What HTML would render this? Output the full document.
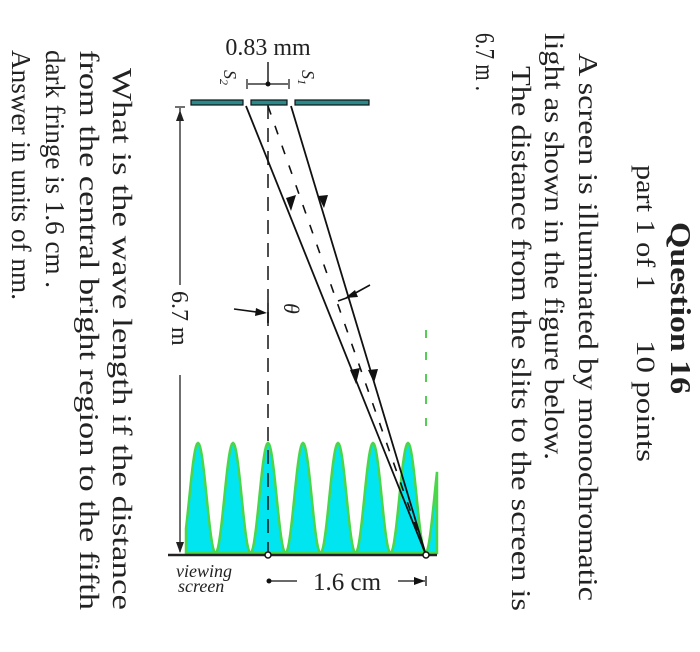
<!DOCTYPE html>
<html><head><meta charset="utf-8"><style>
html,body{margin:0;padding:0;background:#fff;}
svg{display:block;}
text{font-family:"Liberation Serif","DejaVu Serif",serif;fill:#222;}
</style></head><body>
<svg width="700" height="652" viewBox="0 0 700 652">
<g>
<text transform="translate(671,222) rotate(90)" font-size="29" font-weight="bold" textLength="172" lengthAdjust="spacingAndGlyphs">Question 16</text>
<text transform="translate(637,165) rotate(90)" font-size="26" textLength="125" lengthAdjust="spacingAndGlyphs">part 1 of 1</text>
<text transform="translate(637,340) rotate(90)" font-size="26" textLength="122" lengthAdjust="spacingAndGlyphs">10 points</text>
<text transform="translate(579,53) rotate(90)" font-size="27" textLength="548" lengthAdjust="spacingAndGlyphs">A screen is illuminated by monochromatic</text>
<text transform="translate(545,33) rotate(90)" font-size="27" textLength="427" lengthAdjust="spacingAndGlyphs">light as shown in the figure below.</text>
<text transform="translate(512,66) rotate(90)" font-size="27" textLength="545" lengthAdjust="spacingAndGlyphs">The distance from the slits to the screen is</text>
<text transform="translate(476,33) rotate(90)" font-size="27" textLength="58" lengthAdjust="spacingAndGlyphs">6.7 m .</text>
<text transform="translate(113,68) rotate(90)" font-size="27" textLength="542" lengthAdjust="spacingAndGlyphs">What is the wave length if the distance</text>
<text transform="translate(80,50) rotate(90)" font-size="27" textLength="560" lengthAdjust="spacingAndGlyphs">from the central bright region to the fifth</text>
<text transform="translate(46,50) rotate(90)" font-size="27" textLength="238" lengthAdjust="spacingAndGlyphs">dark fringe is 1.6 cm .</text>
<text transform="translate(12,50) rotate(90)" font-size="27" textLength="250" lengthAdjust="spacingAndGlyphs">Answer in units of nm.</text>
</g>

<g>
<path id="wave" fill="#00e5f0" stroke="#4ad64a" stroke-width="2.5"/>
<line x1="168" y1="555" x2="437" y2="555" stroke="#222" stroke-width="2.5"/>
<line x1="426" y1="330" x2="426" y2="440" stroke="#55cc55" stroke-width="2" stroke-dasharray="8,14"/>
<rect x="191" y="100" width="52" height="5" fill="#2a8a8a" stroke="#111" stroke-width="1.2"/>
<rect x="251" y="100" width="36" height="5" fill="#2a8a8a" stroke="#111" stroke-width="1.2"/>
<rect x="295" y="100" width="74" height="5" fill="#2a8a8a" stroke="#111" stroke-width="1.2"/>
<line x1="268" y1="105" x2="268" y2="555" stroke="#222" stroke-width="1.6" stroke-dasharray="14,9"/>
<line x1="246" y1="106" x2="426" y2="555" stroke="#111" stroke-width="1.8"/>
<line x1="291" y1="106" x2="426" y2="555" stroke="#111" stroke-width="1.8"/>
<line x1="268" y1="106" x2="426" y2="555" stroke="#111" stroke-width="1.6" stroke-dasharray="9,12"/>
<polygon points="291,211 286,198 296,195" fill="#111"/>
<polygon points="324,208 318,196 328,195" fill="#111"/>
<polygon points="356,384 350,370 360,368" fill="#111"/>
<polygon points="374,383 368,370 378,369" fill="#111"/>
<line x1="234" y1="309" x2="264" y2="313" stroke="#111" stroke-width="1.6"/>
<polygon points="267,313 256,308 255,316" fill="#111"/>
<line x1="268" y1="303" x2="268" y2="323" stroke="#111" stroke-width="1.6"/>
<line x1="370" y1="285" x2="350" y2="296" stroke="#111" stroke-width="1.6"/>
<polygon points="345,298 355,290 358,297" fill="#111"/>
<line x1="338" y1="301" x2="352" y2="296" stroke="#111" stroke-width="1.6"/>
<text transform="translate(284,303) rotate(90)" font-size="22" font-style="italic">θ</text>
<text x="268" y="55" font-size="24" text-anchor="middle">0.83 mm</text>
<line x1="268" y1="62" x2="268" y2="84" stroke="#111" stroke-width="1.4"/>
<circle cx="268" cy="84" r="2.5" fill="#111"/>
<line x1="248" y1="84" x2="288" y2="84" stroke="#111" stroke-width="1.2"/>
<line x1="247" y1="79" x2="247" y2="89" stroke="#111" stroke-width="1.2"/>
<line x1="289" y1="79" x2="289" y2="89" stroke="#111" stroke-width="1.2"/>
<text transform="translate(224,70) rotate(90)" font-size="18" font-style="italic">S<tspan font-size="12" dy="4">2</tspan></text>
<text transform="translate(302,70) rotate(90)" font-size="18" font-style="italic">S<tspan font-size="12" dy="4">1</tspan></text>
<line x1="180" y1="108" x2="180" y2="285" stroke="#222" stroke-width="1.3"/>
<line x1="180" y1="375" x2="180" y2="552" stroke="#222" stroke-width="1.3"/>
<line x1="175" y1="107" x2="185" y2="107" stroke="#222" stroke-width="1.3"/>
<polygon points="180,110 176,121 184,121" fill="#222"/>
<polygon points="180,553 176,542 184,542" fill="#222"/>
<text transform="translate(172,291) rotate(90)" font-size="24">6.7 m</text>
<circle cx="268" cy="555" r="3" fill="#fff" stroke="#111" stroke-width="1.5"/>
<circle cx="426" cy="555" r="3" fill="#fff" stroke="#111" stroke-width="1.5"/>
<text x="176" y="577" font-size="18" font-style="italic" fill="#555">viewing</text>
<text x="178" y="592" font-size="18" font-style="italic" fill="#555">screen</text>
<circle cx="269" cy="581" r="2.5" fill="#111"/>
<line x1="270" y1="581" x2="297" y2="581" stroke="#111" stroke-width="1.3"/>
<text x="347" y="590" font-size="25" text-anchor="middle">1.6 cm</text>
<line x1="398" y1="581" x2="425" y2="581" stroke="#111" stroke-width="1.3"/>
<polygon points="425,581 414,577 414,585" fill="#111"/>
<line x1="426" y1="576" x2="426" y2="586" stroke="#111" stroke-width="1.3"/>
</g>
</svg>
<script>
const peakPositions = [200, 234, 268, 303, 338, 373, 408];
const peakLevel = 443;
const baseLevel = 553;
const p = document.getElementById('wave');
(function(){
  const period = 35;
  const x0 = 186, x1 = 437;
  let d = 'M' + x0 + ',' + baseLevel;
  for (let x = x0; x <= x1; x += 1) {
    const ph = Math.cos((x - peakPositions[2]) / period * 2 * Math.PI);
    const y = baseLevel - (baseLevel - peakLevel) * (ph + 1) / 2;
    d += ' L' + x + ',' + y.toFixed(1);
  }
  d += ' L' + x1 + ',' + baseLevel + ' Z';
  p.setAttribute('d', d);
})();
</script>
</body></html>
